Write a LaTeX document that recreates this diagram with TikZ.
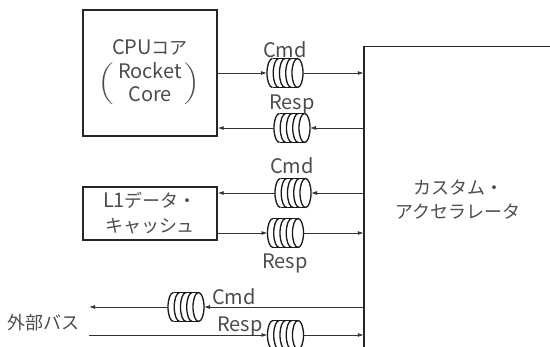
\documentclass[tikz,border=0pt]{standalone}
\usepackage{amsmath}
\usepackage{fontspec}
\setmainfont{Noto Sans CJK JP}
\usetikzlibrary{arrows.meta,calc}
\newcommand\jpt[1]{{\fontsize{18}{21}\selectfont #1}}
\newcommand\tallstrut{\vrule height 16pt depth 16pt width 0pt}
\begin{document}
\begin{tikzpicture}[x=1pt,y=-1pt,
 txt/.style={font=\fontsize{20}{23}\selectfont, text=black!70, inner sep=0, align=center},
 box/.style={draw=black!85, line width=1.4pt},
 arr/.style={draw=black!80, line width=0.9pt, -{Latex[length=6pt,width=4pt]}},
 qnode/.style={minimum width=36pt, minimum height=29pt, inner sep=0, outer sep=0},
 qline/.style={draw=black!90, line width=1.3pt}]
\clip (0,0) rectangle (550,347);
% boxes
\node[box, minimum width=134pt, minimum height=126pt, inner sep=0] (cpu) at (150,73) {};
\node[box, minimum width=134pt, minimum height=53pt, inner sep=0] (l1) at (150,213.5) {};
\node[minimum width=200pt, minimum height=320pt, inner sep=0] (acc) at (464,207) {};
\draw[box] (acc.south west) -- (acc.north west) -- (acc.north east);
% texts
\node[txt] (cpuT) at (150,47) {CPU\jpt{コア}};
\node[txt] (rk) at (150,71) {Rocket};
\node[txt] (co) at (150,94) {Core};
\node[txt] (lp) at (107,84) {\scalebox{1}[0.84]{$\left(\tallstrut\right.$}};
\node[txt] (rp) at (192,84) {\scalebox{1}[0.84]{$\left.\tallstrut\right)$}};
\node[txt] (l1a) at (150,200) {L1\jpt{データ・}};
\node[txt] (l1b) at (150,226) {\jpt{キャッシュ}};
\node[txt] (acA) at (458,188) {\jpt{カスタム・}};
\node[txt] (acB) at (458,212) {\jpt{アクセラレータ}};
\node[txt] (ext) at (44,323) {\jpt{外部バス}};
% queues
\node[qnode] (q1) at (285,73) {};
\node[qnode] (q2) at (292,128) {};
\node[qnode] (q3) at (293,193) {};
\node[qnode] (q4) at (285.5,233) {};
\node[qnode] (q5) at (186,307) {};
\node[qnode] (q6) at (285.5,335) {};
\foreach \q in {q1,q2,q3,q4,q5,q6} {
 \begin{scope}[shift={(\q.center)}]
  \draw[qline] (-12.5,-14.5) -- (12.5,-14.5);
  \draw[qline] (-12.5,14.5) -- (12.5,14.5);
  \draw[qline] (12.5,0) ellipse [x radius=5.5, y radius=14.5];
  \foreach \c in {-12.5,-6.25,0,6.25} {
   \draw[qline] (\c,-14.5) arc[start angle=270, end angle=90, x radius=5.5, y radius=14.5];
  }
 \end{scope}
}
% labels
\node[txt] (c1) at (285,50) {Cmd};
\node[txt] (r1) at (292,104) {Resp};
\node[txt] (c2) at (292,166) {Cmd};
\node[txt] (r2) at (285,263) {Resp};
\node[txt] (c3) at (234,297) {Cmd};
\node[txt] (r3) at (240,326) {Resp};
% connectors
\coordinate (ext1) at (89,307);
\coordinate (ext2) at (89,335);
\draw[arr] (cpu.east |- q1) -- (q1.west);
\draw[arr] (q1.east) -- (q1 -| acc.west);
\draw[arr] (q2 -| acc.west) -- (q2.east);
\draw[arr] (q2.west) -- (q2 -| cpu.east);
\draw[arr] (q3 -| acc.west) -- (q3.east);
\draw[arr] (q3.west) -- (q3 -| l1.east);
\draw[arr] (l1.east |- q4) -- (q4.west);
\draw[arr] (q4.east) -- (q4 -| acc.west);
\draw[arr] (q5 -| acc.west) -- (q5.east);
\draw[arr] (q5.west) -- (ext1);
\draw[arr] (ext2) -- (q6.west);
\draw[arr] (q6.east) -- (q6 -| acc.west);
\end{tikzpicture}
\end{document}
